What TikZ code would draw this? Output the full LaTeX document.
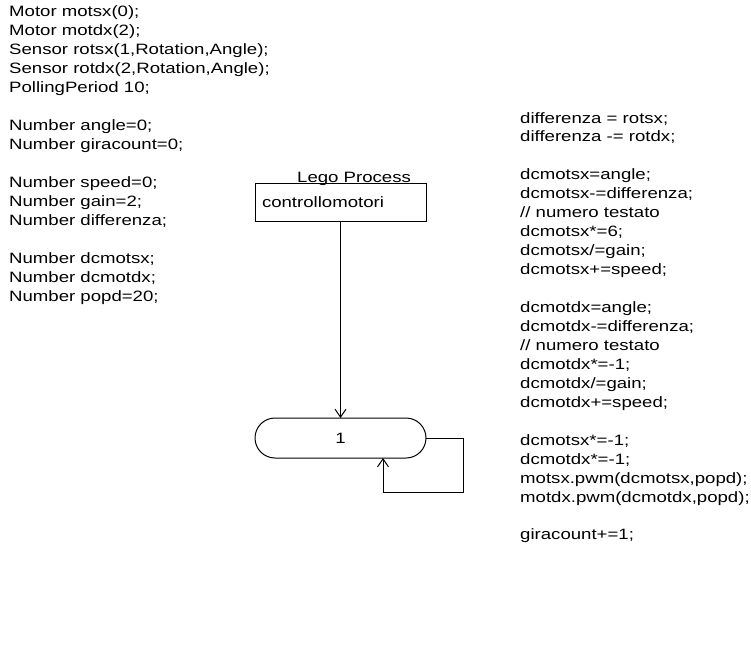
\documentclass[tikz,border=0pt]{standalone}
\usepackage{fontspec}
\setmainfont[FakeStretch=1.24]{Liberation Sans}
\usetikzlibrary{arrows.meta,shapes.misc}

\begin{document}
\begin{tikzpicture}[x=1pt,y=-1pt,
  every node/.style={font=\fontsize{15}{18.95}\selectfont, text=black},
  code/.style={anchor=base west, inner sep=0pt},
  procbox/.style={draw, line width=1pt, minimum width=171pt, minimum height=38pt,
    text width=157pt, inner xsep=7pt, inner ysep=0pt, align=left, outer sep=0pt},
  statebox/.style={draw, line width=1pt, rounded rectangle, minimum width=171pt,
    minimum height=40pt, inner sep=0pt, outer sep=0pt},
  link/.style={line width=1pt, -{Straight Barb[length=8pt,width=11pt,line width=1pt]}}]

\useasboundingbox (0,0) rectangle (751,650);

% declarations
\node[code] (decl) at (9,17) {\begin{tabular}[t]{@{}l@{}}
Motor motsx(0);\\
Motor motdx(2);\\
Sensor rotsx(1,Rotation,Angle);\\
Sensor rotdx(2,Rotation,Angle);\\
PollingPeriod 10;\\
\\
Number angle=0;\\
Number giracount=0;\\
\\
Number speed=0;\\
Number gain=2;\\
Number differenza;\\
\\
Number dcmotsx;\\
Number dcmotdx;\\
Number popd=20;
\end{tabular}};

% state action code
\node[code] (action) at (520,123) {\begin{tabular}[t]{@{}l@{}}
differenza = rotsx;\\
differenza -= rotdx;\\
\\
dcmotsx=angle;\\
dcmotsx-=differenza;\\
// numero testato\\
dcmotsx*=6;\\
dcmotsx/=gain;\\
dcmotsx+=speed;\\
\\
dcmotdx=angle;\\
dcmotdx-=differenza;\\
// numero testato\\
dcmotdx*=-1;\\
dcmotdx/=gain;\\
dcmotdx+=speed;\\
\\
dcmotsx*=-1;\\
dcmotdx*=-1;\\
motsx.pwm(dcmotsx,popd);\\
motdx.pwm(dcmotdx,popd);\\
\\
giracount+=1;
\end{tabular}};

% process and its state
\node[procbox] (proc) at (340.5,202) {controllomotori};
\node[code] (title) at (297,182) {Lego Process};
\node[statebox] (state) at (340.5,438) {1};

\draw[link] (proc.south) -- (state.north);
\draw[link] (state.east) -- ++(37,0) -- ++(0,54) -| ([xshift=42.5pt]state.south);

\end{tikzpicture}
\end{document}
